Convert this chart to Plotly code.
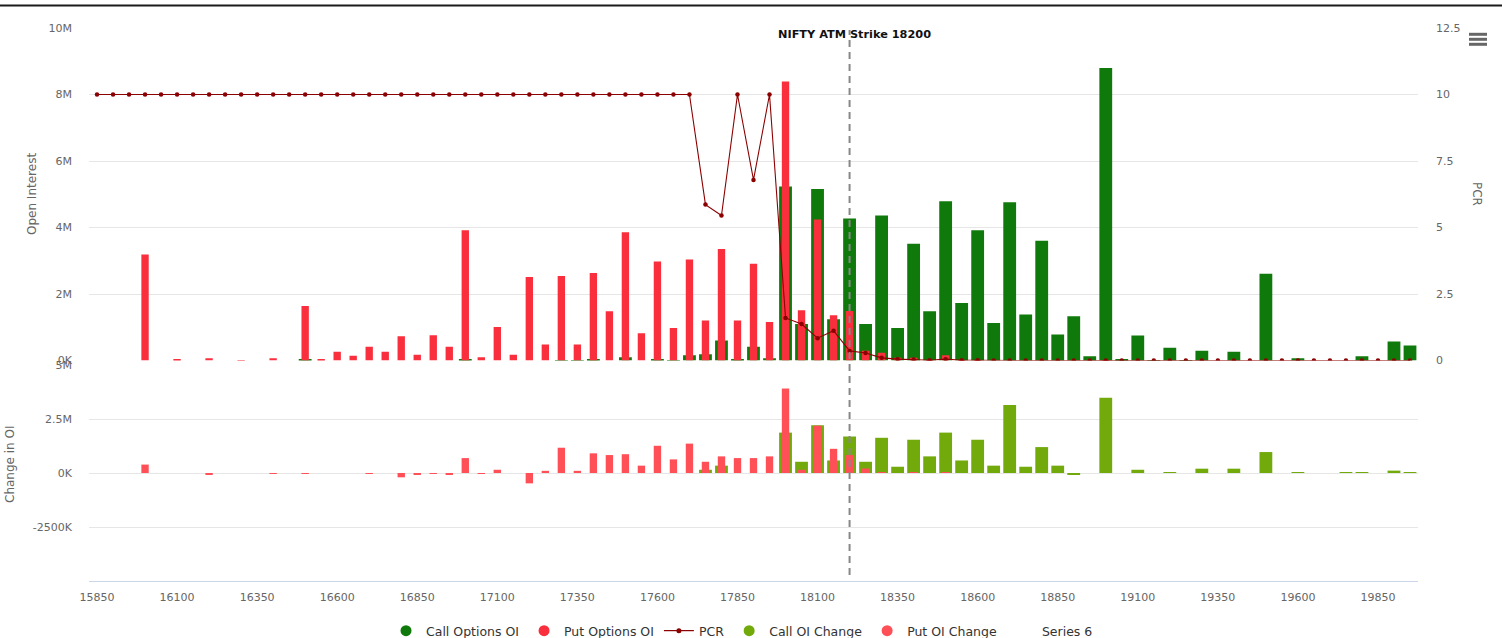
import plotly.graph_objects as go

# ---------------- data ----------------
strikes = list(range(15850, 20000, 50))

# Open interest (millions)
call_oi = [0, 0, 0, 0, 0, 0, 0, 0, 0, 0,
           0, 0, 0, 0.02, 0, 0, 0, 0, 0, 0,
           0, 0, 0, 0.02, 0, 0, 0, 0, 0, 0.01,
           0.01, 0.02, 0, 0.10, 0, 0.03, 0.01, 0.16, 0.19, 0.60,
           0.03, 0.41, 0.07, 5.23, 1.10, 5.16, 1.24, 4.27, 1.10, 4.36,
           0.98, 3.51, 1.48, 4.79, 1.73, 3.92, 1.13, 4.76, 1.38, 3.60,
           0.78, 1.33, 0.13, 8.80, 0.03, 0.75, 0.01, 0.38, 0.01, 0.29,
           0, 0.26, 0, 2.61, 0, 0.07, 0, 0, 0, 0.13,
           0, 0.57, 0.45]

put_oi = [0, 0, 0, 3.19, 0, 0.04, 0, 0.07, 0, 0.01,
          0, 0.07, 0, 1.64, 0.02, 0.26, 0.14, 0.41, 0.26, 0.73,
          0.17, 0.76, 0.41, 3.92, 0.10, 1.01, 0.17, 2.51, 0.48, 2.54,
          0.48, 2.63, 1.48, 3.86, 0.82, 2.98, 0.98, 3.04, 1.20, 3.35,
          1.20, 2.91, 1.16, 8.39, 1.51, 4.24, 1.36, 1.49, 0.29, 0.23,
          0.08, 0.08, 0.01, 0.16, 0.01, 0.01, 0, 0, 0, 0,
          0, 0, 0, 0.01, 0, 0, 0, 0, 0, 0,
          0, 0, 0, 0, 0, 0, 0, 0, 0, 0,
          0, 0, 0]

pcr = [10, 10, 10, 10, 10, 10, 10, 10, 10, 10,
       10, 10, 10, 10, 10, 10, 10, 10, 10, 10,
       10, 10, 10, 10, 10, 10, 10, 10, 10, 10,
       10, 10, 10, 10, 10, 10, 10, 10, 5.86, 5.45,
       10, 6.79, 10, 1.60, 1.37, 0.84, 1.12, 0.36, 0.28, 0.10,
       0.05, 0.04, 0.01, 0.05, 0.01, 0.01, 0, 0, 0, 0,
       0, 0, 0, 0, 0, 0, 0, 0, 0, 0,
       0, 0, 0, 0, 0, 0, 0, 0, 0, 0,
       0, 0, 0]

# Change in OI (millions)
call_chg = [0, 0, 0, 0, 0, 0, 0, 0, 0, 0,
            0, 0, 0, 0, 0, 0, 0, 0, 0, 0,
            0, 0, 0, 0, 0, 0, 0, 0, 0, 0,
            0, 0, 0, 0, 0, 0, 0, 0, 0.15, 0.34,
            0, 0, 0, 1.87, 0.52, 2.21, 0.58, 1.69, 0.52, 1.63,
            0.29, 1.54, 0.77, 1.87, 0.58, 1.54, 0.34, 3.15, 0.29, 1.20,
            0.34, -0.05, 0, 3.48, 0, 0.15, 0, 0.03, 0, 0.20,
            0, 0.20, 0, 0.97, 0, 0.02, 0, 0, 0.02, 0.02,
            0, 0.11, 0.03]

put_chg = [0, 0, 0, 0.39, 0, 0, 0, -0.08, 0, 0,
           0, -0.02, 0, -0.02, 0, 0, 0, -0.03, 0, -0.20,
           -0.07, -0.04, -0.07, 0.69, -0.02, 0.15, 0, -0.48, 0.10, 1.17,
           0.10, 0.91, 0.83, 0.87, 0.34, 1.26, 0.63, 1.36, 0.52, 0.77,
           0.69, 0.69, 0.77, 3.91, 0.15, 2.19, 1.12, 0.83, 0.21, 0.03,
           0, 0.02, 0, 0.03, 0, 0, 0, 0, 0, 0,
           0, 0, 0, 0, 0, 0, 0, 0, 0, 0,
           0, 0, 0, 0, 0, 0, 0, 0, 0, 0,
           0, 0, 0]

atm_strike = 18200
x_ticks = [15850, 16100, 16350, 16600, 16850, 17100, 17350, 17600, 17850,
           18100, 18350, 18600, 18850, 19100, 19350, 19600, 19850]
oi_ticks = [0, 2e6, 4e6, 6e6, 8e6, 10e6]
oi_labels = ["0K", "2M", "4M", "6M", "8M", "10M"]
pcr_ticks = [0, 2.5, 5, 7.5, 10, 12.5]
pcr_labels = ["0", "2.5", "5", "7.5", "10", "12.5"]
chg_ticks = [-2.5e6, 0, 2.5e6, 5e6]
chg_labels = ["-2500K", "0K", "2.5M", "5M"]

# ---------------- style ----------------
C_CALL = "#0f7a0b"
C_PUT = "#f92f3d"
C_CALLCHG = "#72aa0c"
C_PUTCHG = "#ff4f57"
C_PCR = "#8b0000"
FONT = "DejaVu Sans"

W, H = 1502, 638
ML, MR, MT, MB = 89, 84, 28, 57
PW, PH = W - ML - MR, H - MT - MB


def px(x):
    return (x - ML) / PW


def py(y):
    return (H - MB - y) / PH


top_dom = [py(360.5), 1]
bot_dom = [0, py(365)]

M = 1e6
fig = go.Figure()

fig.add_trace(go.Bar(x=strikes, y=[v * M for v in call_oi], width=40,
                     marker=dict(color=C_CALL, line=dict(width=0)),
                     name="Call Options OI", showlegend=False,
                     xaxis="x2", yaxis="y"))
fig.add_trace(go.Bar(x=strikes, y=[v * M for v in put_oi], width=23,
                     marker=dict(color=C_PUT, line=dict(width=0)),
                     name="Put Options OI", showlegend=False,
                     xaxis="x2", yaxis="y"))
fig.add_trace(go.Scatter(x=strikes, y=pcr, mode="lines+markers",
                         line=dict(color=C_PCR, width=1.1),
                         marker=dict(color=C_PCR, size=4.5),
                         name="PCR", showlegend=False,
                         xaxis="x2", yaxis="y2"))
fig.add_trace(go.Bar(x=strikes, y=[v * M for v in call_chg], width=40,
                     marker=dict(color=C_CALLCHG, line=dict(width=0)),
                     name="Call OI Change", showlegend=False,
                     xaxis="x", yaxis="y3"))
fig.add_trace(go.Bar(x=strikes, y=[v * M for v in put_chg], width=23,
                     marker=dict(color=C_PUTCHG, line=dict(width=0)),
                     name="Put OI Change", showlegend=False,
                     xaxis="x", yaxis="y3"))

# legend entries
legend_items = [("Call Options OI", C_CALL, "markers"),
                ("Put Options OI", C_PUT, "markers"),
                ("PCR", C_PCR, "lines+markers"),
                ("Call OI Change", C_CALLCHG, "markers"),
                ("Put OI Change", C_PUTCHG, "markers"),
                ("Series 6", "rgba(0,0,0,0)", "markers")]
for name, col, mode in legend_items:
    fig.add_trace(go.Scatter(
        x=[None], y=[None], mode=mode, name=name,
        marker=dict(color=col, size=11 if mode == "markers" else 5),
        line=dict(color=col, width=1.2),
        xaxis="x2", yaxis="y"))

axis_font = dict(family=FONT, size=11, color="#666666")
fig.update_layout(
    width=W, height=H,
    margin=dict(l=ML, r=MR, t=MT, b=MB, autoexpand=False),
    paper_bgcolor="white", plot_bgcolor="white",
    barmode="overlay",
    font=dict(family=FONT, size=12, color="#333333"),
    xaxis=dict(domain=[0, 1], anchor="y3", range=[15825, 19975],
               tickvals=x_ticks, ticktext=[str(t) for t in x_ticks],
               tickfont=axis_font, showgrid=False, zeroline=False,
               showline=True, linecolor="#ccd6eb", linewidth=1,
               ticks="", ticklabelstandoff=6),
    xaxis2=dict(domain=[0, 1], anchor="y", matches="x",
                showticklabels=False, showgrid=False, zeroline=False,
                showline=False, ticks=""),
    yaxis=dict(domain=top_dom, anchor="x2", range=[0, 10e6],
               tickvals=oi_ticks, ticktext=oi_labels, tickfont=axis_font,
               showgrid=True, gridcolor="#e6e6e6", gridwidth=1,
               zeroline=False, showline=False, ticks="",
               ticklabelstandoff=16),
    yaxis2=dict(overlaying="y", side="right", anchor="x2", range=[0, 12.5],
                tickvals=pcr_ticks, ticktext=pcr_labels, tickfont=axis_font,
                showgrid=False, zeroline=False, showline=False, ticks="",
                ticklabelstandoff=17),
    yaxis3=dict(domain=bot_dom, anchor="x", range=[-5e6, 5e6],
                tickvals=chg_ticks, ticktext=chg_labels, tickfont=axis_font,
                showgrid=True, gridcolor="#e6e6e6", gridwidth=1,
                zeroline=False, showline=False, ticks="",
                ticklabelstandoff=16),
    legend=dict(orientation="h", x=px(742), xanchor="center",
                y=py(631), yanchor="middle",
                font=dict(family=FONT, size=12.5, color="#333333"),
                bgcolor="rgba(0,0,0,0)", itemwidth=30,
                traceorder="normal"),
    showlegend=True,
)

shapes = [
    # ATM strike line across both panels
    dict(type="line", xref="x", yref="paper", x0=atm_strike, x1=atm_strike,
         y0=py(575), y1=py(30), line=dict(color="#888888", width=2, dash="7px,5px")),
    # top border of the container
    dict(type="line", xref="paper", yref="paper", x0=px(0), x1=px(W),
         y0=py(5.5), y1=py(5.5), line=dict(color="#1a1a1a", width=2)),
]
# export menu icon
for yy in (34.3, 39.3, 44.3):
    shapes.append(dict(type="line", xref="paper", yref="paper",
                       x0=px(1469), x1=px(1487), y0=py(yy), y1=py(yy),
                       line=dict(color="#666666", width=3)))
fig.update_layout(shapes=shapes)

annotations = [
    dict(text="<b>NIFTY ATM Strike 18200</b>", x=atm_strike, xref="x",
         y=py(34), yref="paper", xanchor="center", yanchor="middle",
         xshift=5, showarrow=False,
         font=dict(family=FONT, size=11.3, color="#111111")),
    dict(text="Open Interest", x=px(32), y=py(194), xref="paper", yref="paper",
         textangle=-90, showarrow=False, xanchor="center", yanchor="middle",
         font=dict(family=FONT, size=12, color="#666666")),
    dict(text="Change in OI", x=px(10), y=py(464), xref="paper", yref="paper",
         textangle=-90, showarrow=False, xanchor="center", yanchor="middle",
         font=dict(family=FONT, size=12, color="#666666")),
    dict(text="PCR", x=px(1477), y=py(194), xref="paper", yref="paper",
         textangle=90, showarrow=False, xanchor="center", yanchor="middle",
         font=dict(family=FONT, size=12, color="#666666")),
]
fig.update_layout(annotations=annotations)

fig.write_html(
    "out.html",
    config={"displayModeBar": False},
    post_script="document.body.style.margin='0';document.body.style.padding='0';"
                "document.documentElement.style.overflow='hidden';",
)
